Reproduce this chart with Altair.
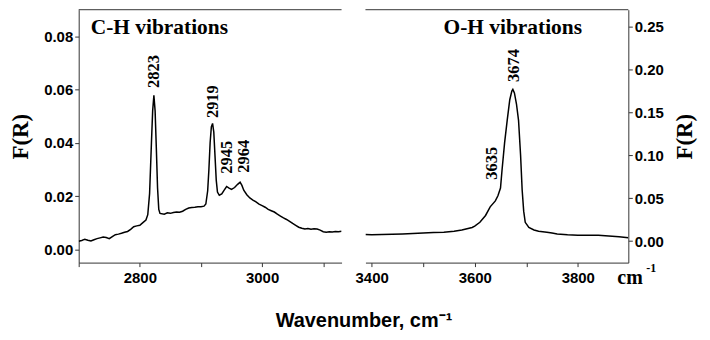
import altair as alt
import pandas as pd

# ---- C-H region (left panel) ----
ch_wn = [2700, 2705, 2710, 2715, 2720, 2725, 2730, 2735, 2740, 2745, 2750, 2755, 2760, 2765,
         2770, 2775, 2780, 2785, 2790, 2795, 2800, 2805, 2810, 2813, 2816, 2819, 2821, 2823,
         2825, 2827, 2829, 2831, 2833, 2840, 2845, 2850, 2855, 2860, 2865, 2870, 2875, 2880,
         2885, 2890, 2895, 2900, 2905, 2908, 2911, 2913, 2915, 2917, 2919, 2921, 2923, 2925,
         2927, 2930, 2934, 2938, 2942, 2946, 2950, 2955, 2960, 2964, 2967, 2970, 2975, 2980,
         2985, 2990, 2995, 3000, 3005, 3010, 3015, 3020, 3025, 3030, 3035, 3040, 3045, 3050,
         3055, 3060, 3065, 3070, 3075, 3080, 3085, 3090, 3095, 3100, 3105, 3110, 3115, 3120,
         3125, 3130]
ch_fr = [0.0030, 0.0033, 0.0038, 0.0034, 0.0031, 0.0036, 0.0040, 0.0043, 0.0046, 0.0044,
         0.0040, 0.0048, 0.0055, 0.0057, 0.0060, 0.0064, 0.0067, 0.0075, 0.0085, 0.0088,
         0.0090, 0.0100, 0.0110, 0.0130, 0.0210, 0.0400, 0.0520, 0.0578, 0.0520, 0.0380,
         0.0230, 0.0150, 0.0135, 0.0132, 0.0137, 0.0135, 0.0138, 0.0140, 0.0139, 0.0143,
         0.0150, 0.0155, 0.0157, 0.0158, 0.0160, 0.0160, 0.0162, 0.0170, 0.0220, 0.0300,
         0.0400, 0.0460, 0.0473, 0.0440, 0.0350, 0.0260, 0.0215, 0.0203, 0.0208, 0.0222,
         0.0236, 0.0230, 0.0225, 0.0232, 0.0244, 0.0252, 0.0240, 0.0222, 0.0205, 0.0193,
         0.0185, 0.0178, 0.0170, 0.0164, 0.0158, 0.0150, 0.0145, 0.0140, 0.0132, 0.0125,
         0.0118, 0.0112, 0.0105, 0.0097, 0.0090, 0.0083, 0.0079, 0.0076, 0.0078, 0.0075,
         0.0077, 0.0076, 0.0072, 0.0066, 0.0064, 0.0066, 0.0065, 0.0067, 0.0066, 0.0068]

ch_peak_text = ["2823", "2919", "2945", "2964"]
ch_peak_x = [2823, 2919, 2943, 2971]
ch_peak_y = [0.0606, 0.0493, 0.0284, 0.0288]

# ---- O-H region (right panel) ----
oh_wn = [3388, 3400, 3420, 3440, 3460, 3480, 3500, 3520, 3540, 3560, 3575, 3585, 3595, 3600,
         3610, 3621, 3630, 3640, 3645, 3650, 3653, 3658, 3663, 3668, 3672, 3674, 3677, 3681,
         3685, 3689, 3692, 3695, 3698, 3705, 3715, 3724, 3740, 3750, 3760, 3780, 3800, 3820,
         3840, 3860, 3880, 3898]
oh_fr = [0.0078, 0.0075, 0.0077, 0.0080, 0.0085, 0.0090, 0.0095, 0.0100, 0.0105, 0.0115,
         0.0130, 0.0145, 0.0160, 0.0175, 0.0220, 0.0300, 0.0400, 0.0470, 0.0530, 0.0620,
         0.0830, 0.1150, 0.1410, 0.1650, 0.1750, 0.1770, 0.1730, 0.1600, 0.1410, 0.1000,
         0.0600, 0.0350, 0.0220, 0.0160, 0.0130, 0.0116, 0.0105, 0.0095, 0.0085, 0.0075,
         0.0070, 0.0070, 0.0068, 0.0060, 0.0052, 0.0040]

oh_peak_text = ["3635", "3674"]
oh_peak_x = [3634, 3676]
oh_peak_y = [0.0717, 0.1857]

ch_xticks = [2700, 2800, 2900, 3000, 3100]
oh_xticks = [3400, 3500, 3600, 3700, 3800]
ch_yticks = [0.00, 0.02, 0.04, 0.06, 0.08]
oh_yticks = [0.00, 0.05, 0.10, 0.15, 0.20, 0.25]

W, H = 264, 254
AX = "#333333"
SERIF = "Liberation Serif"
SANS = "Liberation Sans"

LBL = dict(labelFont=SANS, labelFontSize=15, labelFontWeight="bold", labelColor="black",
           domainColor=AX, tickColor=AX, tickSize=4, domainWidth=1, grid=False)


def panel(wn, fr, ptxt, px, py, xdom, xvals, ydom, yvals, yorient, title_txt):
    df = pd.DataFrame({"wn": wn, "fr": fr})
    pk = pd.DataFrame({"t": ptxt, "wn": px, "fr": py})
    xaxis = alt.Axis(
        values=xvals, title=None,
        labelExpr="datum.value % 200 == 0 ? format(datum.value, 'd') : ''",
        labelPadding=4, **LBL,
    )
    if yorient == "left":
        yaxis = alt.Axis(orient="left", values=yvals, format=".2f", title="F(R)",
                         titleFont=SERIF, titleFontSize=23, titleFontWeight="bold",
                         titleColor="black", titlePadding=11, labelPadding=2, **LBL)
    else:
        yaxis = alt.Axis(orient="right", values=yvals, format=".2f", title="F(R)",
                         titleFont=SERIF, titleFontSize=23, titleFontWeight="bold",
                         titleColor="black", titlePadding=10, labelPadding=2,
                         titleAngle=270, titleBaseline="top", **LBL)
    xenc = alt.X("wn:Q", scale=alt.Scale(domain=xdom, nice=False, zero=False), axis=xaxis)
    yenc = alt.Y("fr:Q", scale=alt.Scale(domain=ydom, nice=False, zero=False), axis=yaxis)

    line = alt.Chart(df).mark_line(color="black", strokeWidth=1.5, clip=True).encode(x=xenc, y=yenc)
    labels = alt.Chart(pk).mark_text(
        angle=270, align="left", baseline="middle",
        font=SERIF, fontWeight="bold", fontSize=16.5, color="black",
    ).encode(x=xenc, y=yenc, text="t:N")
    ttl = alt.Chart(pd.DataFrame({"t": [title_txt]})).mark_text(
        align="center", baseline="alphabetic", font=SERIF, fontWeight="bold",
        fontSize=21.5, color="black",
    ).encode(x=alt.value(148 if yorient == "right" else 81), y=alt.value(24), text="t:N")
    top = alt.Chart(pd.DataFrame({"a": [0]})).mark_rule(color=AX, strokeWidth=1).encode(
        x=alt.value(0), x2=alt.value(W), y=alt.value(0))
    layers = [line, labels, ttl, top]
    if yorient == "right":
        cm = alt.Chart(pd.DataFrame({"t": ["cm"]})).mark_text(
            align="left", baseline="alphabetic", font=SERIF, fontWeight="bold",
            fontSize=20, color="black",
        ).encode(x=alt.value(W - 11), y=alt.value(H + 21), text="t:N")
        sup = alt.Chart(pd.DataFrame({"t": ["-1"]})).mark_text(
            align="left", baseline="alphabetic", font=SERIF, fontWeight="bold",
            fontSize=12, color="black",
        ).encode(x=alt.value(W + 18), y=alt.value(H + 9), text="t:N")
        layers += [cm, sup]
    return alt.layer(*layers).properties(width=W, height=H)


left = panel(ch_wn, ch_fr, ch_peak_text, ch_peak_x, ch_peak_y,
             [2700, 3130], ch_xticks, [-0.005, 0.09], ch_yticks, "left", "C-H vibrations")
right = panel(oh_wn, oh_fr, oh_peak_text, oh_peak_x, oh_peak_y,
              [3388, 3898], oh_xticks, [-0.025, 0.27], oh_yticks, "right", "O-H vibrations")

chart = alt.hconcat(
    left, right, spacing=12, background="white",
    padding={"left": 1, "top": 0, "right": 5, "bottom": 5},
).properties(
    title=alt.TitleParams(
        "Wavenumber, cm\u207b\u00b9", orient="bottom", anchor="middle",
        font=SANS, fontSize=20, fontWeight="bold", color="black", offset=24, dx=11,
    )
).configure_view(stroke=None)

chart.save("out.html", embed_options={"renderer": "svg", "actions": False})
